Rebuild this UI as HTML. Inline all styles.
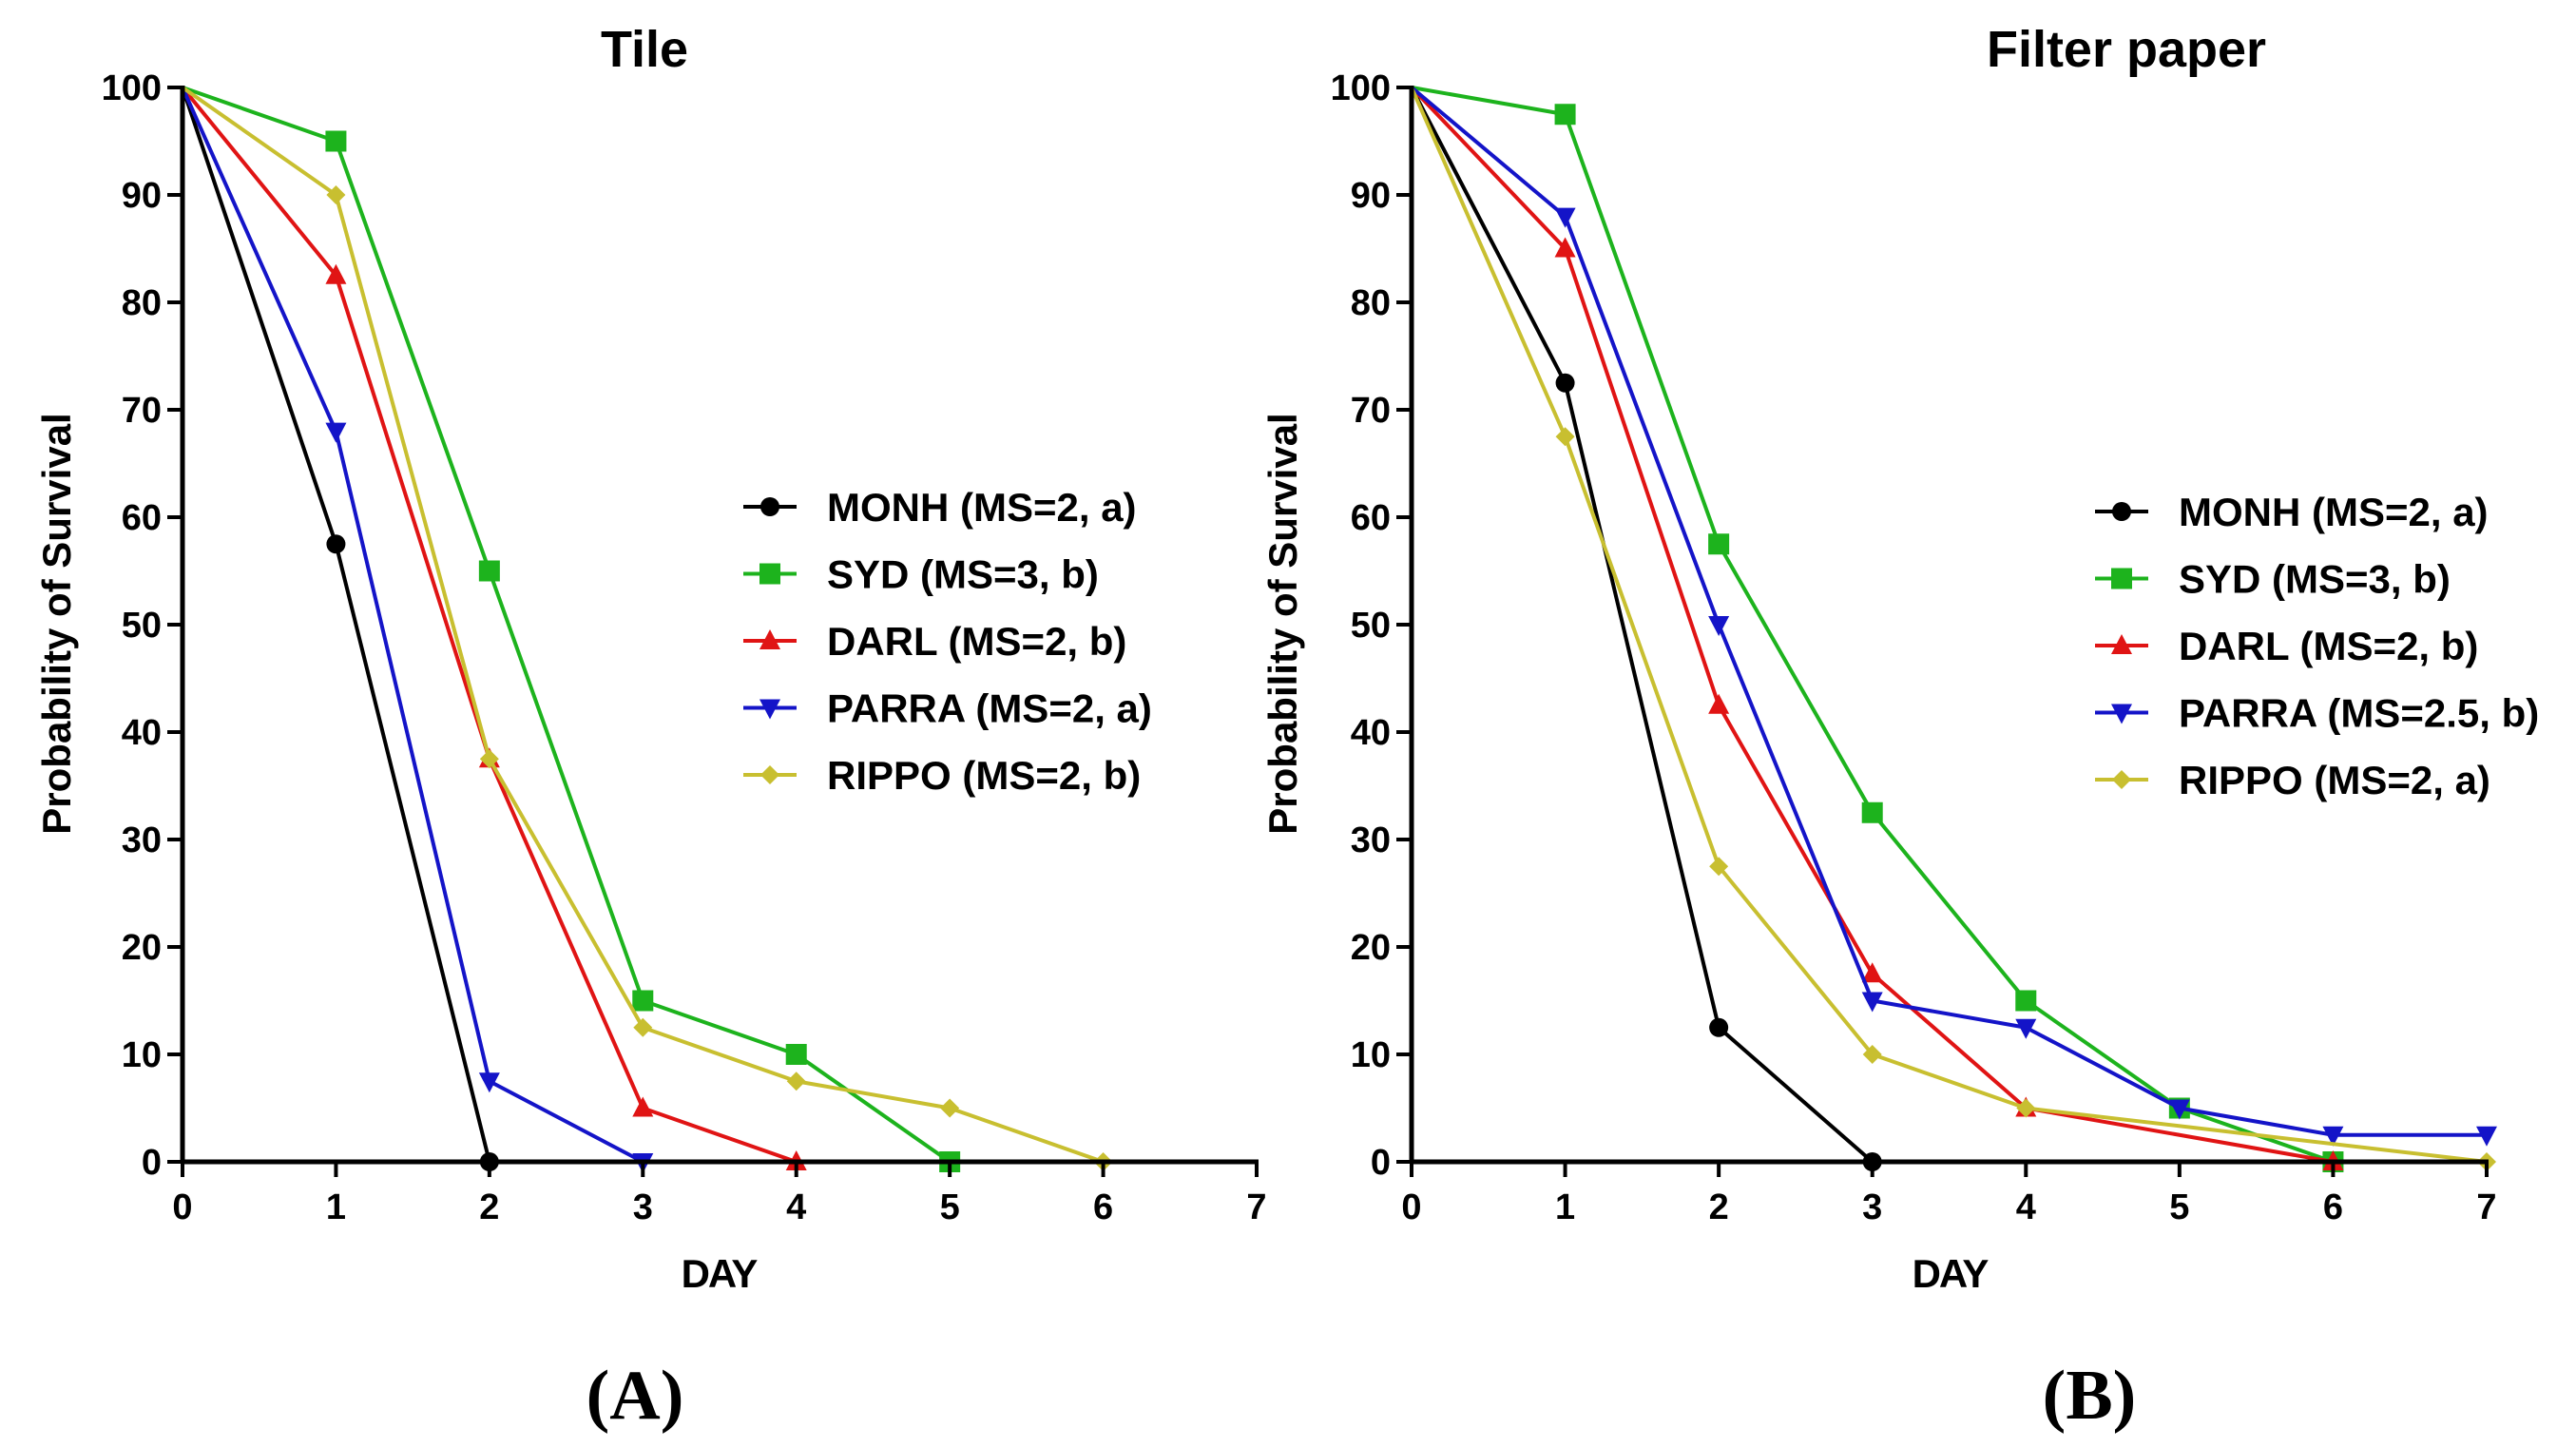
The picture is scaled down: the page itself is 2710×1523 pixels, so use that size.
<!DOCTYPE html>
<html><head><meta charset="utf-8"><style>
html,body{margin:0;padding:0;background:#fff;}
svg{display:block;}
text{font-family:"Liberation Sans",Arial,sans-serif;font-weight:bold;fill:#000;}
</style></head><body>
<svg id="chart" width="2710" height="1523" viewBox="0 0 2710 1523" xmlns="http://www.w3.org/2000/svg"></svg>
<script>
const days = [0,1,2,3,4,5,6,7];
const yTicks = [0,10,20,30,40,50,60,70,80,90,100];
const seriesNames = ["MONH","SYD","DARL","PARRA","RIPPO"];
const legendA = ["MONH (MS=2, a)","SYD (MS=3, b)","DARL (MS=2, b)","PARRA (MS=2, a)","RIPPO (MS=2, b)"];
const legendB = ["MONH (MS=2, a)","SYD (MS=3, b)","DARL (MS=2, b)","PARRA  (MS=2.5, b)","RIPPO  (MS=2, a)"];
const tileMONH = [100,57.5,0];
const tileSYD = [100,95,55,15,10,0];
const tileDARL = [100,82.5,37.5,5,0];
const tilePARRA = [100,68,7.5,0];
const tileRIPPO = [100,90,37.5,12.5,7.5,5,0];
const filterMONH = [100,72.5,12.5,0];
const filterSYD = [100,97.5,57.5,32.5,15,5,0];
const filterDARL = [100,85,42.5,17.5,5,0];
const filterDARLDays = [0,1,2,3,4,6];
const filterPARRA = [100,88,50,15,12.5,5,2.5,2.5];
const filterRIPPO = [100,67.5,27.5,10,5,0];
const filterRIPPODays = [0,1,2,3,4,7];

const colors = ["#000000","#1db31d","#e01414","#1414c8","#c8bf30"];
const markers = ["circle","square","triangle","tridown","diamond"];
const NS = "http://www.w3.org/2000/svg";
const svg = document.getElementById('chart');
function mk(tag, attrs, parent){const e=document.createElementNS(NS,tag);for(const k in attrs)e.setAttribute(k,attrs[k]);(parent||svg).appendChild(e);return e;}

function marker(g,type,cx,cy,c){
  let e;
  if(type==="circle") e=mk('circle',{cx:cx,cy:cy,r:10,fill:c},g);
  else if(type==="square") e=mk('rect',{x:cx-11,y:cy-11,width:22,height:22,fill:c},g);
  else if(type==="triangle") e=mk('polygon',{points:`${cx},${cy-12} ${cx+11},${cy+9} ${cx-11},${cy+9}`,fill:c},g);
  else if(type==="tridown") e=mk('polygon',{points:`${cx},${cy+12} ${cx+11},${cy-9} ${cx-11},${cy-9}`,fill:c},g);
  else e=mk('polygon',{points:`${cx},${cy-10} ${cx+10},${cy} ${cx},${cy+10} ${cx-10},${cy}`,fill:c},g);
  
  
}

function panel(p){
  const x=d=>p.x0+(p.x7-p.x0)*d/7;
  const y=v=>p.y0+(p.y100-p.y0)*v/100;
  const g=mk('g',{});  
  const t=mk('text',{x:p.titleX,y:70,'font-size':54,'text-anchor':'middle'},g); t.textContent=p.title;
   
  p.data.forEach((vals,i)=>{
    const xs=p.xs[i]||days;
    const sg=mk('g',{},g);
    
    
    const pts=vals.map((v,j)=>x(xs[j])+','+y(v)).join(' ');
    mk('polyline',{points:pts,fill:'none',stroke:colors[i],'stroke-width':4,'stroke-linejoin':'round'},sg);
    vals.forEach((v,j)=>{ if(xs[j]>0) marker(sg,markers[i],x(xs[j]),y(v),colors[i]); });
  });
  const ax=mk('g',{},g);  
  mk('line',{x1:p.x0,y1:p.y100-2,x2:p.x0,y2:p.y0+2,stroke:'#000','stroke-width':5},ax);
  mk('line',{x1:p.x0-2,y1:p.y0,x2:p.x7+2,y2:p.y0,stroke:'#000','stroke-width':5},ax);
  days.forEach(d=>{
    mk('line',{x1:x(d),y1:p.y0,x2:x(d),y2:p.y0+16,stroke:'#000','stroke-width':4},ax);
    const tl=mk('text',{x:x(d),y:p.y0+60,'font-size':38,'text-anchor':'middle'},ax); tl.textContent=d;
     
  });
  yTicks.forEach(v=>{
    mk('line',{x1:p.x0-16,y1:y(v),x2:p.x0,y2:y(v),stroke:'#000','stroke-width':4},ax);
    const tl=mk('text',{x:p.x0-22,y:y(v)+13,'font-size':38,'text-anchor':'end'},ax); tl.textContent=v;
     
  });
  const xl=mk('text',{x:p.dayX,y:1354,'font-size':42,'text-anchor':'middle','letter-spacing':'-2'},g); xl.textContent='DAY';
   
  const yl=mk('text',{x:0,y:0,'font-size':42,'text-anchor':'middle',transform:`translate(${p.ylX},656) rotate(-90)`},g); yl.textContent='Probability of Survival';
   
  p.legend.forEach((lab,i)=>{
    const lg=mk('g',{},g);  
    const ly=p.legY+i*70.5;
    mk('line',{x1:p.legX,y1:ly,x2:p.legX+56,y2:ly,stroke:colors[i],'stroke-width':4},lg);
    marker(lg,markers[i],p.legX+28,ly,colors[i]);
    const lt=mk('text',{x:p.legX+88,y:ly+15,'font-size':42},lg); lt.textContent=lab;
  });
  const pl=mk('text',{x:p.letterX,y:1492,'font-size':74,'text-anchor':'middle'},g);
  pl.setAttribute('style','font-family:"Liberation Serif",serif;');
  pl.textContent=p.letter;  
}

panel({name:'panel-tile',title:'Tile',titleX:678,x0:192,x7:1322,y0:1222,y100:92,dayX:756,ylX:74,
  legX:782,legY:533,legend:legendA,letter:'(A)',letterX:668,
  data:[tileMONH,tileSYD,tileDARL,tilePARRA,tileRIPPO],xs:[null,null,null,null,null]});
panel({name:'panel-filter-paper',title:'Filter paper',titleX:2237,x0:1485,x7:2616,y0:1222,y100:92,dayX:2051,ylX:1364,
  legX:2204,legY:538,legend:legendB,letter:'(B)',letterX:2198,
  data:[filterMONH,filterSYD,filterDARL,filterPARRA,filterRIPPO],xs:[null,null,filterDARLDays,null,filterRIPPODays]});
</script>
</body></html>
